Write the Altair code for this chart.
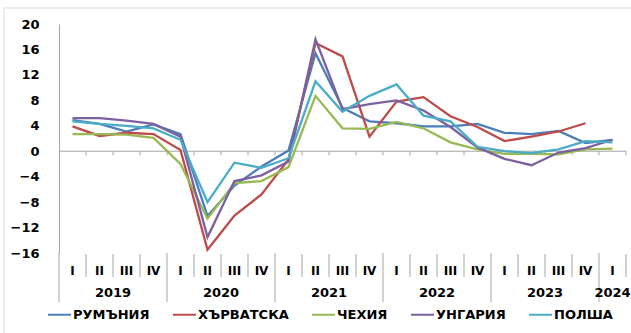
import altair as alt
import pandas as pd

# Quarterly values, 2019 Q1 .. 2024 Q1
quarter_labels = ["I", "II", "III", "IV"] * 5 + ["I"]
years = ["2019", "2020", "2021", "2022", "2023", "2024"]
series_names = ["РУМЪНИЯ", "ХЪРВАТСКА", "ЧЕХИЯ", "УНГАРИЯ", "ПОЛША"]
series_colors = ["#4A7EBB", "#BE4B48", "#98B954", "#7D60A0", "#4BACC6"]

romania = [4.9, 4.3, 3.1, 4.2, 2.7, -10.2, -5.4, -2.4, 0.1, 15.4, 6.8, 4.7, 4.4, 3.9, 3.9, 4.3, 2.9, 2.7, 3.2, 1.3, 1.8]
croatia = [3.9, 2.4, 2.9, 2.7, 0.2, -15.5, -10.1, -6.8, -1.3, 17.0, 14.9, 2.3, 7.8, 8.5, 5.5, 3.8, 1.6, 2.3, 3.1, 4.4, None]
czechia = [2.7, 2.7, 2.6, 2.1, -2.0, -10.6, -5.0, -4.7, -2.5, 8.7, 3.6, 3.5, 4.6, 3.6, 1.4, 0.3, -0.4, -0.4, -0.5, 0.3, 0.4]
hungary = [5.2, 5.2, 4.8, 4.3, 2.3, -13.5, -4.7, -3.8, -1.6, 17.6, 6.6, 7.4, 8.0, 6.4, 3.8, 0.6, -1.2, -2.2, -0.2, 0.5, 1.8]
poland = [4.7, 4.3, 4.0, 3.6, 1.8, -8.0, -1.8, -2.6, -1.1, 11.0, 6.2, 8.7, 10.5, 5.6, 4.7, 0.7, 0.0, -0.3, 0.3, 1.6, 1.4]
y_ticks = [-16, -12, -8, -4, 0, 4, 8, 12, 16, 20]

all_series = [romania, croatia, czechia, hungary, poland]
n = len(quarter_labels)

W, H = 567, 229
FONT = "DejaVu Sans"
AXIS_GRAY = "#a6a6a6"

rows = []
for k, (name, vals) in enumerate(zip(series_names, all_series)):
    for i, v in enumerate(vals):
        if v is not None:
            rows.append({"series": name, "k": k, "pos": i + 0.5, "value": v})
df = pd.DataFrame(rows)

xs = alt.Scale(domain=[0, n])
ys = alt.Scale(domain=[-16, 20], nice=False)

# One value-axis definition shared by every layer that uses the y scale
y_axis = alt.Axis(
    values=y_ticks,
    grid=False,
    ticks=False,
    labelOverlap=False,
    labelBound=False,
    domainColor=AXIS_GRAY,
    labelFont=FONT,
    labelFontWeight="bold",
    labelFontSize=13,
    labelColor="black",
    labelPadding=20,
    title=None,
)

lines = alt.Chart(df).mark_line(strokeWidth=2.3).encode(
    x=alt.X("pos:Q", scale=xs, axis=None),
    y=alt.Y("value:Q", scale=ys, axis=y_axis),
    color=alt.Color(
        "series:N",
        scale=alt.Scale(domain=series_names, range=series_colors),
        legend=alt.Legend(
            orient="none",
            legendX=-12,
            legendY=278,
            direction="horizontal",
            columns=5,
            title=None,
            symbolType="stroke",
            symbolSize=529,
            symbolStrokeWidth=2,
            labelFont=FONT,
            labelFontWeight="bold",
            labelFontSize=13,
            labelColor="black",
            labelOffset=1,
            columnPadding=19,
        ),
    ),
    detail="k:O",
)

# Category axis line at zero with tick marks at quarter boundaries
bounds = pd.DataFrame({"b": list(range(0, n + 1))})
bounds["zero"] = 0.0
bounds["tick_end"] = -0.65
bounds["tall"] = [(b % 4 == 0) for b in bounds.b]

zero_line = alt.Chart(pd.DataFrame({"a": [0], "b": [n], "y": [0.0]})).mark_rule(color=AXIS_GRAY).encode(
    x=alt.X("a:Q", scale=xs, axis=None), x2="b:Q", y=alt.Y("y:Q", scale=ys, axis=y_axis)
)
zero_ticks = alt.Chart(bounds[bounds.b > 0]).mark_rule(color=AXIS_GRAY).encode(
    x=alt.X("b:Q", scale=xs, axis=None), y=alt.Y("zero:Q", scale=ys, axis=y_axis), y2="tick_end:Q"
)

# Separators in the label area: tall at year boundaries, short between quarters
sep_short = alt.Chart(bounds[~bounds.tall]).mark_rule(color=AXIS_GRAY).encode(
    x=alt.X("b:Q", scale=xs, axis=None), y=alt.value(H + 1), y2=alt.value(H + 24)
)
sep_tall = alt.Chart(bounds[bounds.tall]).mark_rule(color=AXIS_GRAY).encode(
    x=alt.X("b:Q", scale=xs, axis=None), y=alt.value(H), y2=alt.value(H + 49)
)

qdf = pd.DataFrame({"pos": [i + 0.5 for i in range(n)], "label": quarter_labels})
q_text = alt.Chart(qdf).mark_text(
    font=FONT, fontWeight="bold", fontSize=12, color="black", baseline="middle"
).encode(x=alt.X("pos:Q", scale=xs, axis=None), y=alt.value(H + 18), text="label:N")

ydf = pd.DataFrame({
    "pos": [min(4 * k + 2, n - 0.5) for k in range(len(years))],
    "label": years,
})
y_text = alt.Chart(ydf).mark_text(
    font=FONT, fontWeight="bold", fontSize=13, color="black", baseline="middle"
).encode(x=alt.X("pos:Q", scale=xs, axis=None), y=alt.value(H + 40), text="label:N")

# Chart-area outline (top and left edges)
frame = pd.DataFrame({"k": [0]})
frame_top = alt.Chart(frame).mark_rule(color="#d9d9d9").encode(
    x=alt.value(-55), x2=alt.value(W + 10), y=alt.value(-16)
)
frame_left = alt.Chart(frame).mark_rule(color="#d9d9d9").encode(
    x=alt.value(-55), y=alt.value(-16), y2=alt.value(H + 90)
)

chart = alt.layer(
    frame_top, frame_left, zero_line, zero_ticks, sep_short, sep_tall, q_text, y_text, lines
).properties(
    width=W,
    height=H,
    padding={"left": 59, "top": 24, "right": 5, "bottom": 80},
    autosize=alt.AutoSizeParams(type="none"),
).configure_view(stroke=None)

chart.save("out.html", embed_options={"renderer": "svg", "actions": False})
